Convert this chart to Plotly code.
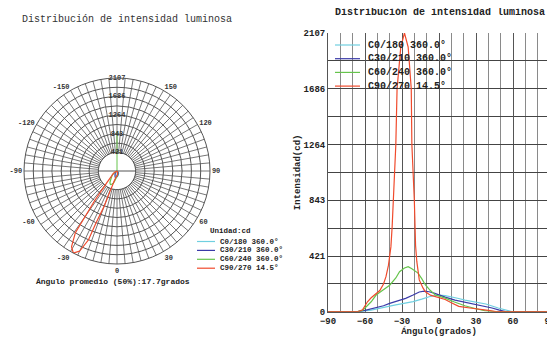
import plotly.graph_objects as go

gamma_c0 = [-90, -65, -55, -48, -40, -35, -28, -21, -14, -8, -3, 0, 5, 11, 16, 21, 30, 38, 48, 54, 59, 90]
i_c0 = [0, 0, 12, 28, 42, 51, 63, 76, 95, 113, 122, 126, 122, 113, 100, 88, 72, 58, 28, 10, 0, 0]

gamma_c30 = [-90, -66, -60, -55, -51, -45, -40, -33, -27, -21, -16, -12, -8, -4, 0, 5, 13, 22, 32, 38, 43, 49, 54, 90]
i_c30 = [0, 0, 10, 20, 30, 45, 63, 82, 101, 126, 149, 155, 151, 140, 126, 110, 88, 70, 51, 40, 28, 12, 0, 0]

gamma_c60 = [-90, -66, -62, -60, -55, -51, -45, -40, -35, -32, -28, -25, -22, -17, -14, -11, -7, -3, 0, 5, 12, 21, 30, 37, 45, 90]
i_c60 = [0, 0, 10, 28, 75, 126, 165, 200, 255, 302, 330, 340, 325, 292, 250, 202, 160, 126, 118, 103, 75, 45, 22, 8, 0, 0]

gamma_c90 = [-90, -66, -62, -58, -55, -50, -48, -45, -43, -41, -39, -38, -37, -35, -34, -31, -28, -25,
             -22.5, -22, -20, -19, -18, -16, -13, -11, -7, -3, 0, 5, 10, 16, 25, 32, 40, 46, 90]
i_c90 = [0, 0, 15, 75, 105, 140, 160, 210, 265, 350, 490, 640, 843, 1264, 1686, 2000, 2107, 2000,
         1686, 1264, 843, 500, 380, 240, 180, 151, 125, 113, 108, 92, 68, 40, 28, 22, 10, 0, 0]

nombres = ["C0/180 360.0°", "C30/210 360.0°", "C60/240 360.0°", "C90/270 14.5°"]
colores = ["#6fcfe0", "#3a3aa8", "#66c44c", "#f04a2c"]
series = [(gamma_c0, i_c0), (gamma_c30, i_c30), (gamma_c60, i_c60), (gamma_c90, i_c90)]

# ejes
i_max = 2107
i_ticks = [0, 421, 843, 1264, 1686, 2107]
i_minor = [i_max * k / 10 for k in range(1, 10, 2)]
i_rings = [i_max * k / 10 for k in range(11)]
ang_ticks = [-90, -60, -30, 0, 30, 60, 90]
radial_labels = [421, 843, 1264, 1686, 2107]
# línea verde vertical que aparece en el diagrama polar
verde_r = [0, 900]
verde_theta = [180, 180]

polar_vals = list(range(0, 360, 5))
polar_text = []
for v in polar_vals:
    if v % 30 == 0 and v != 180:
        polar_text.append(str(v if v < 180 else v - 360))
    else:
        polar_text.append("")

mono = "Liberation Mono"
# la página tiene 8px de margen en el body: se compensa
OX, OY = 8, 8
FW, FH = 547, 335


def px(x):
    return (x - OX) / FW


def py(y):
    return 1 - (y - OY) / FH


fig = go.Figure()

# disco blanco central del diagrama polar
circ_theta = list(range(0, 361, 5))
fig.add_trace(go.Scatterpolar(
    r=[radial_labels[0]] * len(circ_theta), theta=circ_theta,
    mode='lines', fill='toself', fillcolor='white',
    line=dict(color='#555', width=1), showlegend=False, hoverinfo='skip'
))
fig.add_trace(go.Scatterpolar(
    r=[radial_labels[0], 0, radial_labels[0]], theta=[90, 0, 270],
    mode='lines', line=dict(color='#555', width=1), showlegend=False, hoverinfo='skip'
))
fig.add_trace(go.Scatterpolar(
    r=verde_r, theta=verde_theta, mode='lines',
    line=dict(color=colores[2], width=1), showlegend=False, hoverinfo='skip'
))

for (g, i), nombre, color in zip(series, nombres, colores):
    fig.add_trace(go.Scatterpolar(
        r=i, theta=g, mode='lines', name=nombre,
        line=dict(color=color, width=1.2), showlegend=False
    ))
    fig.add_trace(go.Scatter(
        x=g, y=i, mode='lines', name=nombre,
        line=dict(color=color, width=1.2), showlegend=False
    ))

fig.add_trace(go.Scatterpolar(
    r=radial_labels, theta=[180] * len(radial_labels), mode='text',
    text=[str(v) for v in radial_labels],
    textfont=dict(family=mono, size=7, color='#333', weight='bold'),
    showlegend=False, hoverinfo='skip'
))

# leyendas dibujadas a mano (más compactas que las de plotly)
shapes = []
annotations = []
for k, (nombre, color) in enumerate(zip(nombres, colores)):
    y = py(45 + k * 13.7)
    shapes.append(dict(type='line', xref='paper', yref='paper',
                       x0=px(335), x1=px(360), y0=y, y1=y,
                       line=dict(color=color, width=1.2)))
    annotations.append(dict(text=nombre, x=px(366), y=y, xref='paper', yref='paper',
                            xanchor='left', yanchor='middle', showarrow=False,
                            font=dict(size=10)))
    y2 = py(241.5 + k * 8.9)
    shapes.append(dict(type='line', xref='paper', yref='paper',
                       x0=px(197), x1=px(215), y0=y2, y1=y2,
                       line=dict(color=color, width=1.2)))
    annotations.append(dict(text=nombre, x=px(218), y=y2, xref='paper', yref='paper',
                            xanchor='left', yanchor='middle', showarrow=False,
                            font=dict(size=7.5)))

annotations += [
    dict(text='Unidad:cd', x=px(208), y=py(231), xref='paper', yref='paper',
         xanchor='left', yanchor='middle', showarrow=False, font=dict(size=7.5)),
    dict(text='Distribución de intensidad luminosa', x=px(127), y=py(19),
         xref='paper', yref='paper', xanchor='center', yanchor='middle', showarrow=False,
         font=dict(size=10, weight='normal', color='#333')),
    dict(text='Distribución de intensidad luminosa', x=px(440), y=py(12),
         xref='paper', yref='paper', xanchor='center', yanchor='middle', showarrow=False,
         font=dict(size=10)),
    dict(text='Ángulo promedio (50%):17.7grados', x=px(113), y=py(281),
         xref='paper', yref='paper', xanchor='center', yanchor='middle', showarrow=False,
         font=dict(size=8)),
]

fig.update_layout(
    width=FW, height=FH,
    margin=dict(l=0, r=0, t=0, b=0, autoexpand=False),
    paper_bgcolor='white', plot_bgcolor='white',
    font=dict(family=mono, size=9, color='#222', weight='bold'),
    showlegend=False,
    polar=dict(
        domain=dict(x=[px(24), px(210)], y=[py(264), py(78)]),
        bgcolor='white',
        angularaxis=dict(
            rotation=270, direction='counterclockwise',
            tickmode='array', tickvals=polar_vals, ticktext=polar_text,
            ticks='', showgrid=True, gridcolor='#777', gridwidth=0.8,
            showline=True, linecolor='#555', linewidth=1,
            tickfont=dict(size=7, color='#333')
        ),
        radialaxis=dict(
            range=[0, i_max], tickmode='array', tickvals=i_rings,
            showticklabels=False, ticks='', showline=False,
            showgrid=True, gridcolor='#555', gridwidth=0.8
        )
    ),
    xaxis=dict(
        domain=[px(328), px(550)], range=[-90, 90], automargin=False,
        tickmode='array', tickvals=ang_ticks, ticks='', ticklabeloverflow='allow',
        showgrid=True, gridcolor='#555', gridwidth=1.4, zeroline=False,
        minor=dict(dtick=10, tick0=0, showgrid=True, gridcolor='#8a8a8a', gridwidth=1.2),
        showline=True, linecolor='#555',
        title=dict(text='Ángulo(grados)', standoff=2, font=dict(size=9)),
        tickfont=dict(size=9)
    ),
    yaxis=dict(
        domain=[py(311.7), py(33)], range=[0, i_max], automargin=False,
        tickmode='array', tickvals=i_ticks, ticks='',
        showgrid=True, gridcolor='#444', gridwidth=1.2, zeroline=False,
        minor=dict(tickmode='array', tickvals=i_minor, showgrid=True, gridcolor='#444', gridwidth=1.2),
        showline=True, linecolor='#555',
        title=dict(text='Intensidad(cd)', standoff=1, font=dict(size=9)),
        tickfont=dict(size=9)
    ),
    shapes=shapes,
    annotations=annotations
)

fig.write_html("out.html")
